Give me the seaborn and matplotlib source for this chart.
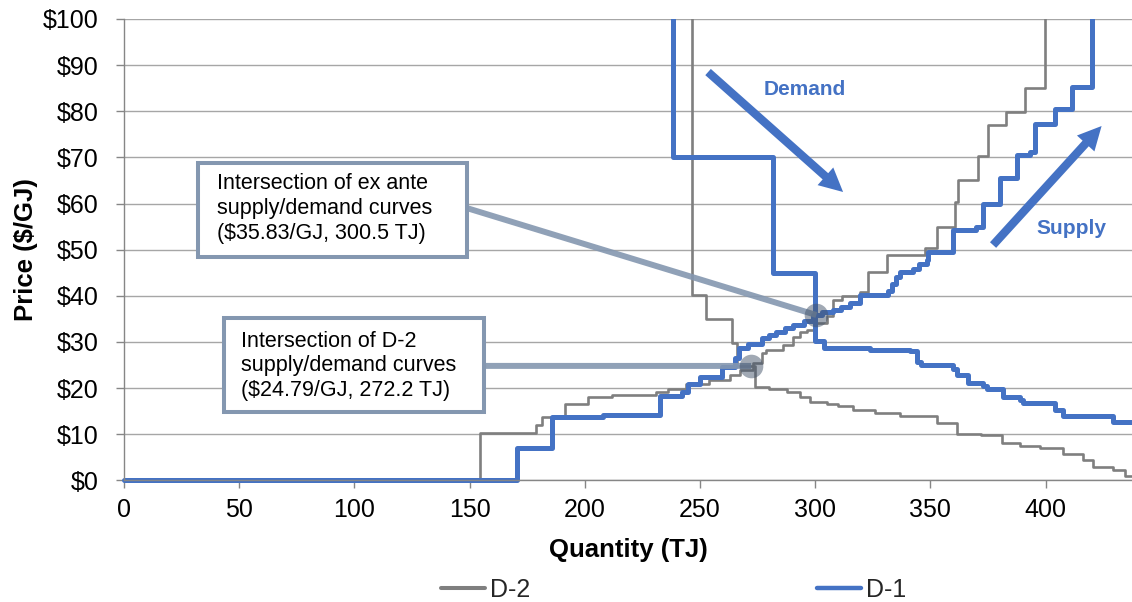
import matplotlib
matplotlib.use("Agg")
import pandas as pd
import seaborn as sns
import matplotlib.pyplot as plt
from matplotlib.lines import Line2D
from matplotlib.patches import Rectangle, FancyArrowPatch
from matplotlib.transforms import Bbox, TransformedBbox

# Step curves: each point is (start of block quantity in TJ, price in $/GJ)
d2_demand_q = [0, 246.7, 252.8, 264.0, 265.9, 273.9, 280.0, 287.6, 293.4, 297.7, 305.0,
               310.0, 316.5, 326.0, 336.8, 352.7, 361.4, 372.0, 380.9, 389.0, 397.6,
               407.7, 416.4, 420.7, 429.4, 434.5, 437.5]
d2_demand_p = [110, 40.2, 35.0, 29.8, 24.8, 20.3, 19.8, 19.2, 18.1, 17.0, 16.5,
               16.1, 15.2, 14.5, 13.9, 12.5, 10.0, 9.8, 8.0, 7.4, 6.9,
               5.7, 4.4, 2.9, 2.2, 0.9, 0.9]

d2_supply_q = [0, 154.6, 178.8, 181.5, 191.4, 201.4, 212.0, 231.0, 236.0, 244.0, 254.0,
               263.0, 267.4, 273.0, 276.7, 278.8, 286.0, 290.4, 293.4, 296.3, 300.0,
               305.0, 307.7, 311.5, 319.4, 323.0, 331.0, 347.7, 352.8, 360.7, 362.0,
               370.7, 375.0, 383.0, 391.0, 399.7]
d2_supply_p = [0, 10.3, 12.0, 13.8, 16.5, 18.1, 18.5, 19.2, 19.9, 20.8, 21.7,
               22.8, 23.9, 25.4, 27.5, 28.2, 29.3, 31.0, 32.2, 32.6, 34.1,
               35.6, 39.1, 40.0, 40.9, 45.2, 48.8, 50.3, 55.0, 60.4, 65.1,
               70.2, 77.0, 79.9, 85.0, 110]

d1_demand_q = [0, 238.4, 281.8, 299.9, 303.8, 323.8, 341.1, 344.0, 346.0, 360.0, 361.4,
               366.5, 373.0, 374.4, 381.6, 388.9, 390.3, 404.1, 407.7, 429.4, 437.5]
d1_demand_p = [110, 70.0, 45.0, 30.1, 28.6, 28.3, 28.1, 25.7, 25.0, 24.1, 22.8,
               21.0, 20.4, 19.7, 18.1, 17.3, 16.7, 15.2, 13.9, 12.6, 12.6]

d1_supply_q = [0, 170.7, 185.9, 208.0, 232.6, 242.0, 244.8, 250.0, 259.4, 265.2, 267.0,
               271.0, 277.0, 280.0, 283.0, 287.0, 290.4, 295.0, 299.0, 303.0, 307.7,
               311.0, 315.0, 319.4, 331.6, 333.5, 335.0, 336.8, 342.5, 345.0, 348.4,
               349.1, 360.0, 370.0, 372.7, 380.1, 387.5, 393.2, 395.4, 404.1, 411.3, 420.0]
d1_supply_p = [0, 6.9, 13.8, 14.1, 18.3, 19.2, 20.8, 22.5, 24.6, 26.5, 28.6,
               29.5, 30.8, 31.5, 32.2, 33.0, 33.7, 34.6, 35.8, 36.5, 36.9,
               37.6, 38.4, 40.2, 41.0, 42.5, 44.0, 45.2, 45.8, 46.8, 47.8,
               49.4, 54.3, 55.0, 60.0, 65.5, 70.5, 71.2, 77.2, 80.4, 85.2, 110]

days = ["D-2", "D-1"]
day_colors = {"D-2": "#7f7f7f", "D-1": "#4472C4"}
day_widths = {"D-2": 1.9, "D-1": 3.6}

x_ticks = [0, 50, 100, 150, 200, 250, 300, 350, 400]
y_ticks = [0, 10, 20, 30, 40, 50, 60, 70, 80, 90, 100]

# Equilibrium points (price, quantity)
exante_price, exante_qty = 35.83, 300.5
d2_price, d2_qty = 24.79, 272.2

sns.set_style("whitegrid")
plt.rcParams["font.family"] = ["Liberation Sans", "DejaVu Sans"]
plt.rcParams["text.parse_math"] = False

frames = []
for day, side, q, p in [("D-2", "demand", d2_demand_q, d2_demand_p),
                        ("D-2", "supply", d2_supply_q, d2_supply_p),
                        ("D-1", "demand", d1_demand_q, d1_demand_p),
                        ("D-1", "supply", d1_supply_q, d1_supply_p)]:
    frames.append(pd.DataFrame({"Quantity": q, "Price": p, "Day": day, "Curve": side}))
df = pd.concat(frames, ignore_index=True)

W, H = 1132, 602
fig = plt.figure(figsize=(W / 100, H / 100), dpi=100)
ax = fig.add_axes([124 / W, 1 - 480.3 / H, 1 - 124 / W, (480.3 - 19) / H])

for (day, side), sub in df.groupby(["Day", "Curve"], sort=False):
    sns.lineplot(data=sub, x="Quantity", y="Price", color=day_colors[day],
                 linewidth=day_widths[day], drawstyle="steps-post", sort=False,
                 estimator=None, legend=False, ax=ax)

ax.set_xlim(0, 437.5)
ax.set_ylim(0, 100)

# let the curves sit fully on the zero line
clip = TransformedBbox(Bbox([[-0.01, -0.03], [1.01, 1.0]]), ax.transAxes)
for line in ax.lines:
    line.set_clip_path(None)
    line.set_clip_box(clip)

ax.set_xticks(x_ticks)
ax.set_yticks(y_ticks)
ax.set_yticklabels([f"${v}" for v in y_ticks])
ax.grid(axis="x", visible=False)
ax.grid(axis="y", color="#a6a6a6", linewidth=1.0)
for s in ["top", "right"]:
    ax.spines[s].set_visible(False)
for s in ["left", "bottom"]:
    ax.spines[s].set_color("#868686")
    ax.spines[s].set_linewidth(1.0)
ax.tick_params(axis="both", which="major", bottom=True, left=True, length=6, width=1,
               color="#868686", labelsize=18, labelcolor="black")
ax.tick_params(axis="y", pad=12)
ax.tick_params(axis="x", pad=7)

ax.set_xlabel("Quantity (TJ)", fontsize=18.5, fontweight="bold", color="black", labelpad=11)
ax.set_ylabel("Price ($/GJ)", fontsize=18.5, fontweight="bold", color="black", labelpad=4)

# Callout boxes and connectors
box_edge = "#8497B0"
ax.plot([148.9, exante_qty], [59.0, exante_price], color=box_edge, lw=4.3, alpha=0.9,
        solid_capstyle="butt", zorder=6)
ax.plot([156.25, d2_qty], [24.8, d2_price], color=box_edge, lw=4.3, alpha=0.9,
        solid_capstyle="butt", zorder=6)
ax.plot([exante_qty, d2_qty], [exante_price, d2_price], "o", ms=17, color="#44546A",
        alpha=0.5, mew=0, zorder=7)

ax.add_patch(Rectangle((32.1, 48.4), 148.9 - 32.1, 68.8 - 48.4, facecolor="white",
                       edgecolor=box_edge, lw=2.9, zorder=8))
ax.add_patch(Rectangle((43.4, 14.8), 156.25 - 43.4, 35.2 - 14.8, facecolor="white",
                       edgecolor=box_edge, lw=2.9, zorder=8))
ax.text(40.4, 59.0, "Intersection of ex ante\nsupply/demand curves\n($35.83/GJ, 300.5 TJ)",
        fontsize=15.5, ha="left", va="center", color="black", zorder=9, linespacing=1.25)
ax.text(50.8, 24.8, "Intersection of D-2\nsupply/demand curves\n($24.79/GJ, 272.2 TJ)",
        fontsize=15.5, ha="left", va="center", color="black", zorder=9, linespacing=1.2)

# Direction arrows
arrow_style = "simple,head_length=1.7,head_width=1.7,tail_width=0.6"
for tail, tip in [((253.5, 88.5), (312.1, 62.5)), ((377.2, 51.0), (424.3, 76.8))]:
    ax.add_patch(FancyArrowPatch(tail, tip, arrowstyle=arrow_style, mutation_scale=10,
                                 color="#4472C4", lw=0, shrinkA=0, shrinkB=0, zorder=6))
ax.text(295.6, 83.5, "Demand", fontsize=15, fontweight="bold", color="#4472C4",
        ha="center", va="baseline")
ax.text(411.3, 53.5, "Supply", fontsize=15, fontweight="bold", color="#4472C4",
        ha="center", va="baseline")

handles = [Line2D([], [], color=day_colors["D-2"], lw=2.9),
           Line2D([], [], color=day_colors["D-1"], lw=3.2)]
fig.legend(handles=handles, labels=days, loc="center",
           bbox_to_anchor=(673.5 / W, 1 - 590 / H), ncol=2, frameon=False, fontsize=18,
           handlelength=1.76, handletextpad=0.2, columnspacing=11.5)

fig.savefig("out.png", dpi=100)
